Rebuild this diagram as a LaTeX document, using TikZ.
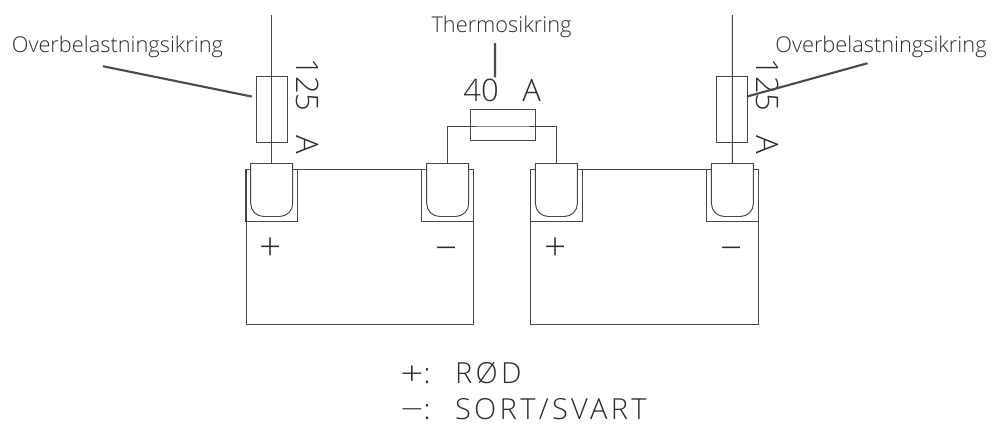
\documentclass[tikz,border=0pt]{standalone}
\usepackage{fontspec}
\setmainfont{Liberation Sans}
\newfontfamily\thinfont{Open Sans Light}
\newfontfamily\thinspaced[LetterSpace=11.5]{Open Sans Light}
\usetikzlibrary{positioning}
\definecolor{wiregray}{RGB}{70, 70, 70}
\definecolor{leadgray}{RGB}{75, 75, 75}
\definecolor{textgray}{RGB}{45, 45, 45}
\tikzset{
  battbox/.style={draw=wiregray, line width=0.55pt, minimum width=4.55cm, minimum height=3.11cm, inner sep=0pt},
  recessbox/.style={draw=wiregray, line width=0.55pt, minimum width=1.03cm, minimum height=1.04cm, inner sep=0pt},
  fusebox/.style={draw=wiregray, line width=0.55pt, inner sep=0pt},
  wire/.style={wiregray, line width=0.55pt},
  lugline/.style={draw=wiregray, line width=0.55pt, fill=white},
  leader/.style={leadgray, line width=1.2pt},
  calllabel/.style={font=\thinfont\fontsize{12.4pt}{14pt}\selectfont, textgray, inner sep=0pt},
  amplabel/.style={font=\thinfont\fontsize{17.6pt}{20pt}\selectfont, textgray, inner sep=0pt},
  polelabel/.style={font=\thinfont\fontsize{22pt}{26pt}\selectfont, textgray, inner sep=0pt},
  legendlabel/.style={font=\thinspaced\fontsize{16.5pt}{19pt}\selectfont, textgray, inner sep=0pt, anchor=base west}
}

\begin{document}
\begin{tikzpicture}
  \useasboundingbox (0,0) rectangle (19.84,8.54);

  % Batteries
  \foreach \n/\sx in {L/0, R/5.694} {
    \begin{scope}[xshift=\sx cm]
      \node[battbox] (batt\n) at (7.195, 3.605) {};
      \node[recessbox] (recP\n) at (5.434, 4.64) {};
      \node[recessbox] (recN\n) at (8.954, 4.64) {};
      \draw[lugline] (5.014, 5.27) -- (5.854, 5.27) -- (5.854, 4.47) arc[start angle=0, end angle=-90, radius=0.26] -- (5.274, 4.21) arc[start angle=-90, end angle=-180, radius=0.26] -- cycle;
      \draw[lugline] (8.534, 5.27) -- (9.374, 5.27) -- (9.374, 4.47) arc[start angle=0, end angle=-90, radius=0.26] -- (8.794, 4.21) arc[start angle=-90, end angle=-180, radius=0.26] -- cycle;
      \coordinate (lugP\n) at (5.434, 5.27);
      \coordinate (lugN\n) at (8.954, 5.27);
      \node[polelabel] (plus\n) at (5.42, 3.56) {+};
      \node[polelabel] (minus\n) at (8.94, 3.46) {−};
    \end{scope}
  }

  % Main fuses
  \node[fusebox, minimum width=0.62cm, minimum height=1.31cm] (fuseL) at (5.434, 6.35) {};
  \node[fusebox, minimum width=0.62cm, minimum height=1.31cm] (fuseR) at (14.648, 6.35) {};
  \coordinate (feedL) at (5.434, 8.24);
  \coordinate (feedR) at (14.648, 8.24);
  \draw[wire] (feedL) -- (lugPL);
  \draw[wire] (feedR) -- (lugNR);
  \node[amplabel, rotate=-90, anchor=west] (ampL) at (6.15, 7.38) {125\hspace{0.77em}A};
  \node[amplabel, rotate=-90, anchor=west] (ampR) at (15.36, 7.38) {125\hspace{0.77em}A};

  % Thermal fuse
  \node[fusebox, minimum width=1.31cm, minimum height=0.62cm] (fuseT) at (10.057, 6.044) {};
  \coordinate (wireT) at (10.057, 6.02);
  \draw[wire] (lugNL) |- (wireT) -| (lugPR);
  \node[amplabel, anchor=west] (ampT) at (9.26, 6.74) {40\hspace{0.77em}A};

  % Callouts
  \node[calllabel] (callL) at (2.35, 7.6) {Overbelastningsikring};
  \node[calllabel] (callT) at (10.03, 8.0) {Thermosikring};
  \node[calllabel] (callR) at (17.62, 7.6) {Overbelastningsikring};
  \coordinate (tipT) at (9.9, 6.99);
  \draw[leader] ([xshift=-0.29cm, yshift=-0.16cm]callL.south) -- ([xshift=-0.08cm]fuseL.141);
  \draw[leader] ([xshift=-0.13cm, yshift=-0.1cm]callT.south) -- (tipT);
  \draw[leader] ([xshift=-0.27cm, yshift=-0.1cm]callR.south) -- ([xshift=-0.03cm]fuseR.39);

  % Legend
  \node[legendlabel] (legPlus) at (8.0, 0.87) {\raisebox{-0.06em}{\scalebox{1.4}[1.15]{+}}:\hspace{0.85em}RØD};
  \node[legendlabel] (legMinus) at (8.0, 0.16) {\scalebox{1.4}[1]{−}:\hspace{0.85em}SORT/SVART};
\end{tikzpicture}
\end{document}
